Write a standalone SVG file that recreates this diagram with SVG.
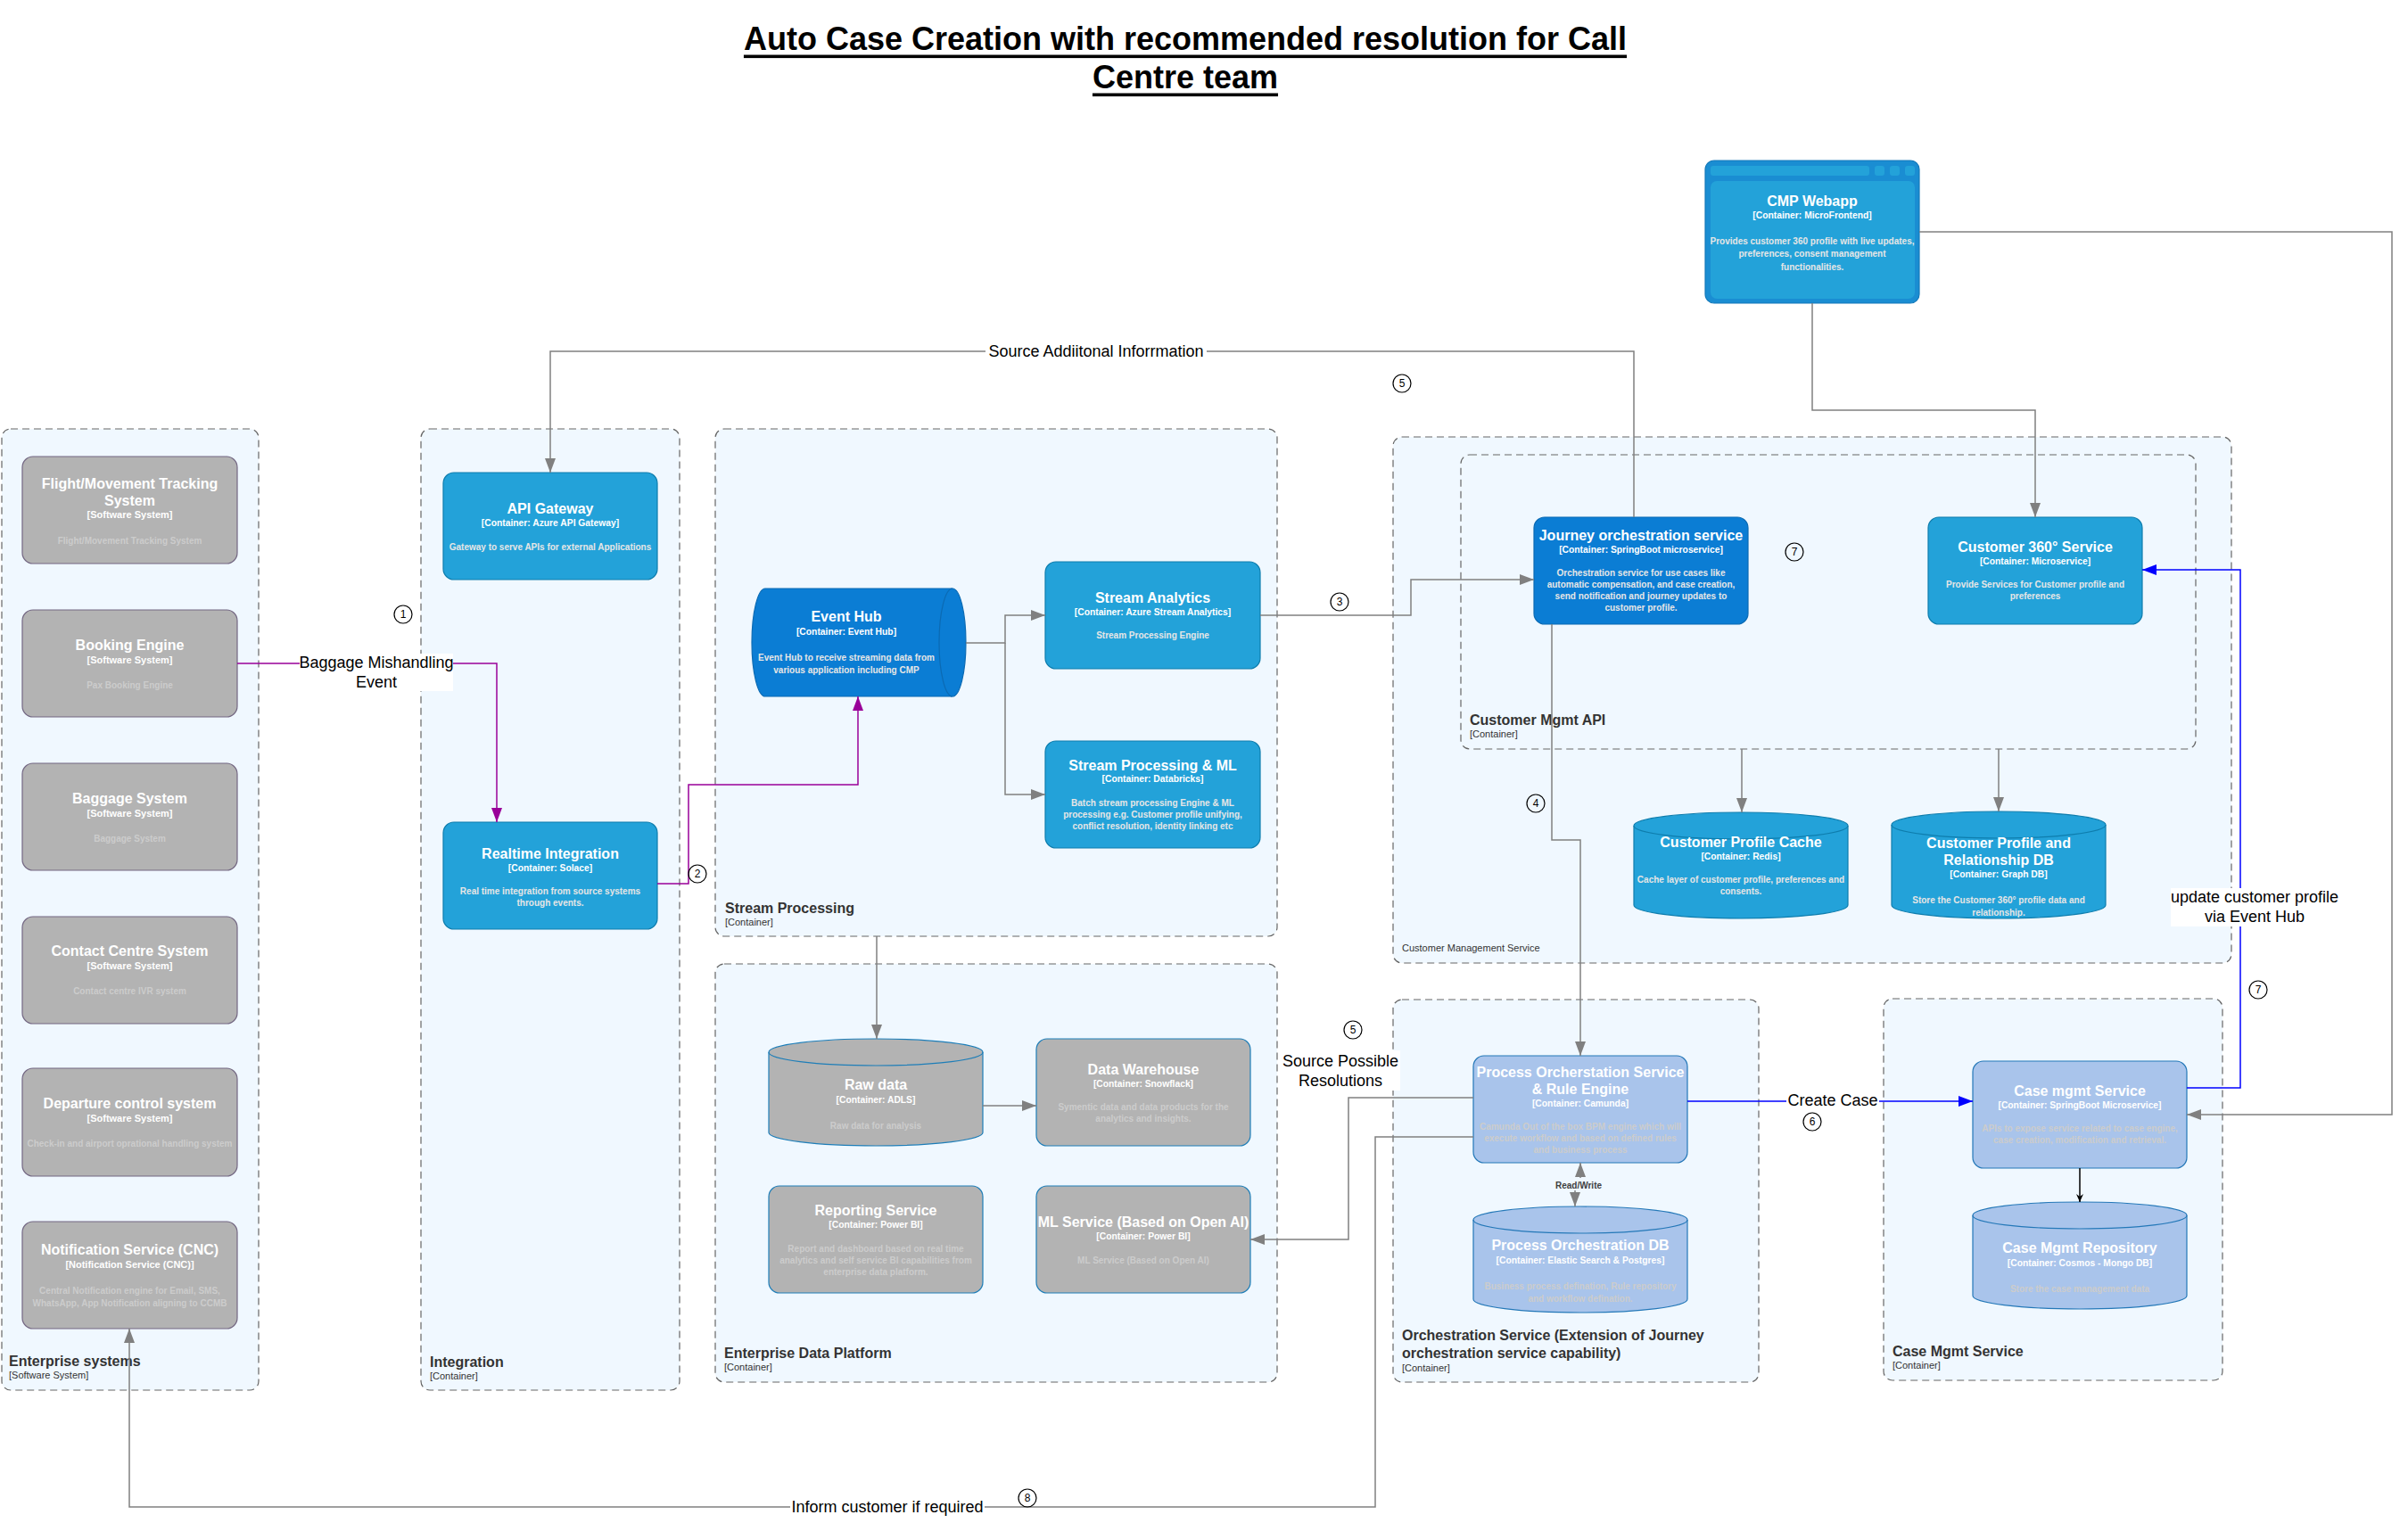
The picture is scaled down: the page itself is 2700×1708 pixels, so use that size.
<svg xmlns="http://www.w3.org/2000/svg" width="2700" height="1708" viewBox="0 0 2700 1708">
<style>
text{font-family:"Liberation Sans",Arial,sans-serif;dominant-baseline:central}
.ttl{font-size:36px;font-weight:bold;fill:#000;text-anchor:middle;text-decoration:underline}
.cont{fill:#F0F8FF;stroke:#666;stroke-width:1.2;stroke-dasharray:8 5}
.clab{font-size:16px;font-weight:bold;fill:#333}
.csub{font-size:11px;fill:#333}
.grey{fill:#B3B3B3;stroke:#736782;stroke-width:1.2}
.greyb{fill:#B3B3B3;stroke:#1E7EB8;stroke-width:1.2}
.blue{fill:#23A2D9;stroke:#0E7DAD;stroke-width:1.2}
.dblue{fill:#0B7DD4;stroke:#0B6AB3;stroke-width:1.2}
.lblue{fill:#A9C4EB;stroke:#2478B8;stroke-width:1.2}
.nt{font-size:16px;font-weight:bold;fill:#fff;text-anchor:middle}
.ny{font-size:10.3px;font-weight:bold;fill:#fff;text-anchor:middle}
.nys{font-size:11px;font-weight:bold;fill:#fff;text-anchor:middle}
.nd{font-size:10px;font-weight:bold;fill:#ccc;text-anchor:middle}
.ndw{font-size:10px;font-weight:bold;fill:#e6e6e6;text-anchor:middle}
.ln{fill:none;stroke:#808080;stroke-width:1.5}
.lp{fill:none;stroke:#990099;stroke-width:1.5}
.lb{fill:none;stroke:#0000FF;stroke-width:1.5}
.el{font-size:18px;fill:#000;text-anchor:middle}
.lbg{fill:#fff}
.num{fill:none;stroke:#000;stroke-width:1.2}
.numt{font-size:12px;fill:#000;text-anchor:middle}
</style>
<defs>
<marker id="ag" markerUnits="userSpaceOnUse" markerWidth="16" markerHeight="12" refX="16" refY="6" orient="auto"><path d="M0,0 L16,6 L0,12 Z" fill="#808080"/></marker>
<marker id="ags" markerUnits="userSpaceOnUse" markerWidth="16" markerHeight="12" refX="0" refY="6" orient="auto"><path d="M16,0 L0,6 L16,12 Z" fill="#808080"/></marker>
<marker id="ap" markerUnits="userSpaceOnUse" markerWidth="16" markerHeight="12" refX="16" refY="6" orient="auto"><path d="M0,0 L16,6 L0,12 Z" fill="#990099"/></marker>
<marker id="ab" markerUnits="userSpaceOnUse" markerWidth="16" markerHeight="12" refX="16" refY="6" orient="auto"><path d="M0,0 L16,6 L0,12 Z" fill="#0000FF"/></marker>
<marker id="ak" markerUnits="userSpaceOnUse" markerWidth="10" markerHeight="8" refX="9" refY="4" orient="auto"><path d="M0,0 L9,4 L0,8 L3,4 Z" fill="#000"/></marker>
</defs>
<rect width="2700" height="1708" fill="#fff"/>

<g id="title">
<text class="ttl" x="1329" y="43">Auto Case Creation with recommended resolution for Call</text>
<text class="ttl" x="1329" y="86">Centre team</text>
</g>

<!-- Containers -->
<g id="enterprise-systems">
<rect class="cont" x="2" y="481" width="288" height="1078" rx="10"/>
<text class="clab" x="10" y="1526">Enterprise systems</text>
<text class="csub" x="10" y="1542">[Software System]</text>
</g>
<g id="integration">
<rect class="cont" x="472" y="481" width="290" height="1078" rx="10"/>
<text class="clab" x="482" y="1527">Integration</text>
<text class="csub" x="482" y="1543">[Container]</text>
</g>
<g id="stream-processing">
<rect class="cont" x="802" y="481" width="630" height="569" rx="10"/>
<text class="clab" x="813" y="1018">Stream Processing</text>
<text class="csub" x="813" y="1034">[Container]</text>
</g>
<g id="enterprise-data-platform">
<rect class="cont" x="802" y="1081" width="630" height="469" rx="10"/>
<text class="clab" x="812" y="1517">Enterprise Data Platform</text>
<text class="csub" x="812" y="1533">[Container]</text>
</g>
<g id="customer-management-service">
<rect class="cont" x="1562" y="490" width="940" height="590" rx="10"/>
<text class="csub" x="1572" y="1063">Customer Management Service</text>
</g>
<g id="customer-mgmt-api">
<rect class="cont" x="1638" y="510" width="824" height="330" rx="10"/>
<text class="clab" x="1648" y="807">Customer Mgmt API</text>
<text class="csub" x="1648" y="823">[Container]</text>
</g>
<g id="orchestration-service">
<rect class="cont" x="1562" y="1121" width="410" height="429" rx="10"/>
<text class="clab" x="1572" y="1497">Orchestration Service (Extension of Journey</text>
<text class="clab" x="1572" y="1517">orchestration service capability)</text>
<text class="csub" x="1572" y="1534">[Container]</text>
</g>
<g id="case-mgmt-service-container">
<rect class="cont" x="2112" y="1120" width="380" height="428" rx="10"/>
<text class="clab" x="2122" y="1515">Case Mgmt Service</text>
<text class="csub" x="2122" y="1531">[Container]</text>
</g>

<!-- Enterprise systems nodes -->
<g id="flight-tracking">
<rect class="grey" x="25" y="512" width="241" height="120" rx="12"/>
<text class="nt" x="145.5" y="542">Flight/Movement Tracking</text>
<text class="nt" x="145.5" y="561">System</text>
<text class="nys" x="145.5" y="577">[Software System]</text>
<text class="nd" x="145.5" y="606">Flight/Movement Tracking System</text>
</g>
<g id="booking-engine">
<rect class="grey" x="25" y="684" width="241" height="120" rx="12"/>
<text class="nt" x="145.5" y="723">Booking Engine</text>
<text class="nys" x="145.5" y="740">[Software System]</text>
<text class="nd" x="145.5" y="768">Pax Booking Engine</text>
</g>
<g id="baggage-system">
<rect class="grey" x="25" y="856" width="241" height="120" rx="12"/>
<text class="nt" x="145.5" y="895">Baggage System</text>
<text class="nys" x="145.5" y="912">[Software System]</text>
<text class="nd" x="145.5" y="940">Baggage System</text>
</g>
<g id="contact-centre">
<rect class="grey" x="25" y="1028" width="241" height="120" rx="12"/>
<text class="nt" x="145.5" y="1066">Contact Centre System</text>
<text class="nys" x="145.5" y="1083">[Software System]</text>
<text class="nd" x="145.5" y="1111">Contact centre IVR system</text>
</g>
<g id="departure-control">
<rect class="grey" x="25" y="1198" width="241" height="121" rx="12"/>
<text class="nt" x="145.5" y="1237">Departure control system</text>
<text class="nys" x="145.5" y="1254">[Software System]</text>
<text class="nd" x="145.5" y="1282">Check-in and airport oprational handling system</text>
</g>
<g id="notification-service">
<rect class="grey" x="25" y="1370" width="241" height="120" rx="12"/>
<text class="nt" x="145.5" y="1401">Notification Service (CNC)</text>
<text class="nys" x="145.5" y="1418">[Notification Service (CNC)]</text>
<text class="nd" x="145.5" y="1447">Central Notification engine for Email, SMS,</text>
<text class="nd" x="145.5" y="1461">WhatsApp, App Notification aligning to CCMB</text>
</g>

<!-- Integration nodes -->
<g id="api-gateway">
<rect class="blue" x="497" y="530" width="240" height="120" rx="12"/>
<text class="nt" x="617" y="570">API Gateway</text>
<text class="ny" x="617" y="586">[Container: Azure API Gateway]</text>
<text class="ndw" x="617" y="613">Gateway to serve APIs for external Applications</text>
</g>
<g id="realtime-integration">
<rect class="blue" x="497" y="922" width="240" height="120" rx="12"/>
<text class="nt" x="617" y="957">Realtime Integration</text>
<text class="ny" x="617" y="973">[Container: Solace]</text>
<text class="ndw" x="617" y="999">Real time integration from source systems</text>
<text class="ndw" x="617" y="1012">through events.</text>
</g>

<!-- Stream processing nodes -->
<g id="event-hub">
<path class="dblue" d="M858,660 L1068,660 A15,60.5 0 0 1 1068,781 L858,781 A15,60.5 0 0 1 858,660 Z"/>
<path d="M1068,660 A15,60.5 0 0 0 1068,781" fill="none" stroke="#0B6AB3" stroke-width="1.2"/>
<text class="nt" x="949" y="691">Event Hub</text>
<text class="ny" x="949" y="708">[Container: Event Hub]</text>
<text class="ndw" x="949" y="737">Event Hub to receive streaming data from</text>
<text class="ndw" x="949" y="751">various application including CMP</text>
</g>
<g id="stream-analytics">
<rect class="blue" x="1172" y="630" width="241" height="120" rx="12"/>
<text class="nt" x="1292.5" y="670">Stream Analytics</text>
<text class="ny" x="1292.5" y="686">[Container: Azure Stream Analytics]</text>
<text class="ndw" x="1292.5" y="712">Stream Processing Engine</text>
</g>
<g id="stream-processing-ml">
<rect class="blue" x="1172" y="831" width="241" height="120" rx="12"/>
<text class="nt" x="1292.5" y="858">Stream Processing &amp; ML</text>
<text class="ny" x="1292.5" y="873">[Container: Databricks]</text>
<text class="ndw" x="1292.5" y="900">Batch stream processing Engine &amp; ML</text>
<text class="ndw" x="1292.5" y="913">processing e.g. Customer profile unifying,</text>
<text class="ndw" x="1292.5" y="926">conflict resolution, identity linking etc</text>
</g>

<!-- EDP nodes -->
<g id="raw-data">
<path class="greyb" d="M862,1180 A120,15 0 0 1 1102,1180 V1270 A120,15 0 0 1 862,1270 Z"/>
<path d="M862,1180 A120,15 0 0 0 1102,1180" fill="none" stroke="#1E7EB8" stroke-width="1.2"/>
<text class="nt" x="982" y="1216">Raw data</text>
<text class="ny" x="982" y="1233">[Container: ADLS]</text>
<text class="nd" x="982" y="1262">Raw data for analysis</text>
</g>
<g id="data-warehouse">
<rect class="greyb" x="1162" y="1165" width="240" height="120" rx="12"/>
<text class="nt" x="1282" y="1199">Data Warehouse</text>
<text class="ny" x="1282" y="1215">[Container: Snowflack]</text>
<text class="nd" x="1282" y="1241">Symentic data and data products for the</text>
<text class="nd" x="1282" y="1254">analytics and insights.</text>
</g>
<g id="reporting-service">
<rect class="greyb" x="862" y="1330" width="240" height="120" rx="12"/>
<text class="nt" x="982" y="1357">Reporting Service</text>
<text class="ny" x="982" y="1373">[Container: Power BI]</text>
<text class="nd" x="982" y="1400">Report and dashboard based on real time</text>
<text class="nd" x="982" y="1413">analytics and self service BI capabilities from</text>
<text class="nd" x="982" y="1426">enterprise data platform.</text>
</g>
<g id="ml-service">
<rect class="greyb" x="1162" y="1330" width="240" height="120" rx="12"/>
<text class="nt" x="1282" y="1370">ML Service (Based on Open AI)</text>
<text class="ny" x="1282" y="1386">[Container: Power BI]</text>
<text class="nd" x="1282" y="1413">ML Service (Based on Open AI)</text>
</g>

<!-- CMP Webapp -->
<g id="cmp-webapp">
<rect x="1912" y="180" width="240" height="160" rx="10" fill="#1A8DD2" stroke="#1479BA" stroke-width="1.2"/>
<rect x="1918" y="203" width="229" height="132" rx="7" fill="#23A2D9"/>
<rect x="1918" y="186" width="178" height="11" rx="3" fill="#23A2D9"/>
<rect x="2102" y="186" width="11" height="11" rx="3" fill="#23A2D9"/>
<rect x="2119" y="186" width="11" height="11" rx="3" fill="#23A2D9"/>
<rect x="2136" y="186" width="11" height="11" rx="3" fill="#23A2D9"/>
<text class="nt" x="2032" y="225">CMP Webapp</text>
<text class="ny" x="2032" y="241">[Container: MicroFrontend]</text>
<text class="ndw" x="2032" y="270">Provides customer 360 profile with live updates,</text>
<text class="ndw" x="2032" y="284">preferences, consent management</text>
<text class="ndw" x="2032" y="299">functionalities.</text>
</g>

<!-- Customer mgmt nodes -->
<g id="journey-orchestration">
<rect class="dblue" x="1720" y="580" width="240" height="120" rx="12"/>
<text class="nt" x="1840" y="600">Journey orchestration service</text>
<text class="ny" x="1840" y="616">[Container: SpringBoot microservice]</text>
<text class="ndw" x="1840" y="642">Orchestration service for use cases like</text>
<text class="ndw" x="1840" y="655">automatic compensation, and case creation,</text>
<text class="ndw" x="1840" y="668">send notification and journey updates to</text>
<text class="ndw" x="1840" y="681">customer profile.</text>
</g>
<g id="customer-360">
<rect class="blue" x="2162" y="580" width="240" height="120" rx="12"/>
<text class="nt" x="2282" y="613">Customer 360° Service</text>
<text class="ny" x="2282" y="629">[Container: Microservice]</text>
<text class="ndw" x="2282" y="655">Provide Services for Customer profile and</text>
<text class="ndw" x="2282" y="668">preferences</text>
</g>
<g id="customer-profile-cache">
<path class="blue" d="M1832,926 A120,15 0 0 1 2072,926 V1015 A120,15 0 0 1 1832,1015 Z"/>
<path d="M1832,926 A120,15 0 0 0 2072,926" fill="none" stroke="#0E7DAD" stroke-width="1.2"/>
<text class="nt" x="1952" y="944">Customer Profile Cache</text>
<text class="ny" x="1952" y="960">[Container: Redis]</text>
<text class="ndw" x="1952" y="986">Cache layer of customer profile, preferences and</text>
<text class="ndw" x="1952" y="999">consents.</text>
</g>
<g id="customer-profile-db">
<path class="blue" d="M2121,925 A120,15 0 0 1 2361,925 V1015 A120,15 0 0 1 2121,1015 Z"/>
<path d="M2121,925 A120,15 0 0 0 2361,925" fill="none" stroke="#0E7DAD" stroke-width="1.2"/>
<text class="nt" x="2241" y="945">Customer Profile and</text>
<text class="nt" x="2241" y="964">Relationship DB</text>
<text class="ny" x="2241" y="980">[Container: Graph DB]</text>
<text class="ndw" x="2241" y="1009">Store the Customer 360° profile data and</text>
<text class="ndw" x="2241" y="1023">relationship.</text>
</g>

<!-- Orchestration nodes -->
<g id="process-orchestration">
<rect class="lblue" x="1652" y="1184" width="240" height="120" rx="12"/>
<text class="nt" x="1772" y="1202">Process Orcherstation Service</text>
<text class="nt" x="1772" y="1221">&amp; Rule Engine</text>
<text class="ny" x="1772" y="1237">[Container: Camunda]</text>
<text class="nd" x="1772" y="1263">Camunda Out of the box BPM engine which will</text>
<text class="nd" x="1772" y="1276">execute workflow and based on defined rules</text>
<text class="nd" x="1772" y="1289">and business process</text>
</g>
<g id="process-orchestration-db">
<path class="lblue" d="M1652,1368 A120,15 0 0 1 1892,1368 V1457 A120,15 0 0 1 1652,1457 Z"/>
<path d="M1652,1368 A120,15 0 0 0 1892,1368" fill="none" stroke="#2478B8" stroke-width="1.2"/>
<text class="nt" x="1772" y="1396">Process Orchestration DB</text>
<text class="ny" x="1772" y="1413">[Container: Elastic Search &amp; Postgres]</text>
<text class="nd" x="1772" y="1442">Business process defination, Rule repository</text>
<text class="nd" x="1772" y="1456">and workflow defination.</text>
</g>

<!-- Case mgmt nodes -->
<g id="case-mgmt-service">
<rect class="lblue" x="2212" y="1190" width="240" height="120" rx="12"/>
<text class="nt" x="2332" y="1223">Case mgmt Service</text>
<text class="ny" x="2332" y="1239">[Container: SpringBoot Microservice]</text>
<text class="nd" x="2332" y="1265">APIs to expose service related to case engine,</text>
<text class="nd" x="2332" y="1278">case creation, modification and retrieval.</text>
</g>
<g id="case-mgmt-repository">
<path class="lblue" d="M2212,1363 A120,15 0 0 1 2452,1363 V1453 A120,15 0 0 1 2212,1453 Z"/>
<path d="M2212,1363 A120,15 0 0 0 2452,1363" fill="none" stroke="#2478B8" stroke-width="1.2"/>
<text class="nt" x="2332" y="1399">Case Mgmt Repository</text>
<text class="ny" x="2332" y="1416">[Container: Cosmos - Mongo DB]</text>
<text class="nd" x="2332" y="1445">Store the case management data</text>
</g>

<!-- Connectors -->
<g id="connectors">
<path class="lp" d="M266,744 H557 V922" marker-end="url(#ap)"/>
<path class="lp" d="M737,991 H772 V880 H962 V781" marker-end="url(#ap)"/>
<path class="ln" d="M1083,721 H1127 V690 H1172" marker-end="url(#ag)"/>
<path class="ln" d="M1127,721 V891 H1172" marker-end="url(#ag)"/>
<path class="ln" d="M1413,690 H1582 V650 H1720" marker-end="url(#ag)"/>
<path class="ln" d="M983,1050 V1165" marker-end="url(#ag)"/>
<path class="ln" d="M1102,1240 H1162" marker-end="url(#ag)"/>
<path class="ln" d="M1832,580 V394 H617 V530" marker-end="url(#ag)"/>
<path class="ln" d="M1740,700 V942 H1772 V1184" marker-end="url(#ag)"/>
<path class="ln" d="M2032,340 V460 H2282 V580" marker-end="url(#ag)"/>
<path class="ln" d="M2152,260 H2682 V1250 H2452" marker-end="url(#ag)"/>
<path class="ln" d="M1953,840 V911" marker-end="url(#ag)"/>
<path class="ln" d="M2241,840 V910" marker-end="url(#ag)"/>
<path class="ln" d="M1772,1304 V1328 H1766 V1353" marker-start="url(#ags)" marker-end="url(#ag)"/>
<path class="ln" d="M1652,1231 H1512 V1390 H1402" marker-end="url(#ag)"/>
<path class="ln" d="M1652,1275 H1542 V1690 H145 V1490" marker-end="url(#ag)"/>
<path class="lb" d="M1892,1235 H2212" marker-end="url(#ab)"/>
<path class="lb" d="M2452,1220 H2512 V639 H2402" marker-end="url(#ab)"/>
<path d="M2332,1310 V1348" fill="none" stroke="#000" stroke-width="1.5" marker-end="url(#ak)"/>

<rect class="lbg" x="336" y="733" width="172" height="42"/>
<text class="el" x="422" y="743">Baggage Mishandling</text>
<text class="el" x="422" y="765">Event</text>
<rect class="lbg" x="1105" y="384" width="248" height="20"/>
<text class="el" x="1229" y="394">Source Addiitonal Inforrmation</text>
<rect class="lbg" x="1437" y="1178" width="133" height="45"/>
<text class="el" x="1503" y="1190">Source Possible</text>
<text class="el" x="1503" y="1212">Resolutions</text>
<rect class="lbg" x="886" y="1680" width="218" height="20"/>
<text class="el" x="995" y="1690">Inform customer if required</text>
<rect class="lbg" x="2003" y="1224" width="104" height="22"/>
<text class="el" x="2055" y="1234">Create Case</text>
<rect class="lbg" x="2434" y="996" width="188" height="43"/>
<text class="el" x="2528" y="1006">update customer profile</text>
<text class="el" x="2528" y="1028">via Event Hub</text>
<rect x="1740" y="1321" width="60" height="14" fill="#F0F8FF"/>
<text x="1770" y="1329" style="font-size:10px;font-weight:bold;fill:#404040;text-anchor:middle">Read/Write</text>

<circle class="num" cx="452" cy="689" r="10"/><text class="numt" x="452" y="689">1</text>
<circle class="num" cx="782" cy="980" r="10"/><text class="numt" x="782" y="980">2</text>
<circle class="num" cx="1502" cy="675" r="10"/><text class="numt" x="1502" y="675">3</text>
<circle class="num" cx="1722" cy="901" r="10"/><text class="numt" x="1722" y="901">4</text>
<circle class="num" cx="1572" cy="430" r="10"/><text class="numt" x="1572" y="430">5</text>
<circle class="num" cx="1517" cy="1155" r="10"/><text class="numt" x="1517" y="1155">5</text>
<circle class="num" cx="2032" cy="1258" r="10"/><text class="numt" x="2032" y="1258">6</text>
<circle class="num" cx="2012" cy="619" r="10"/><text class="numt" x="2012" y="619">7</text>
<circle class="num" cx="2532" cy="1110" r="10"/><text class="numt" x="2532" y="1110">7</text>
<circle class="num" cx="1152" cy="1680" r="10"/><text class="numt" x="1152" y="1680">8</text>
</g>
</svg>
